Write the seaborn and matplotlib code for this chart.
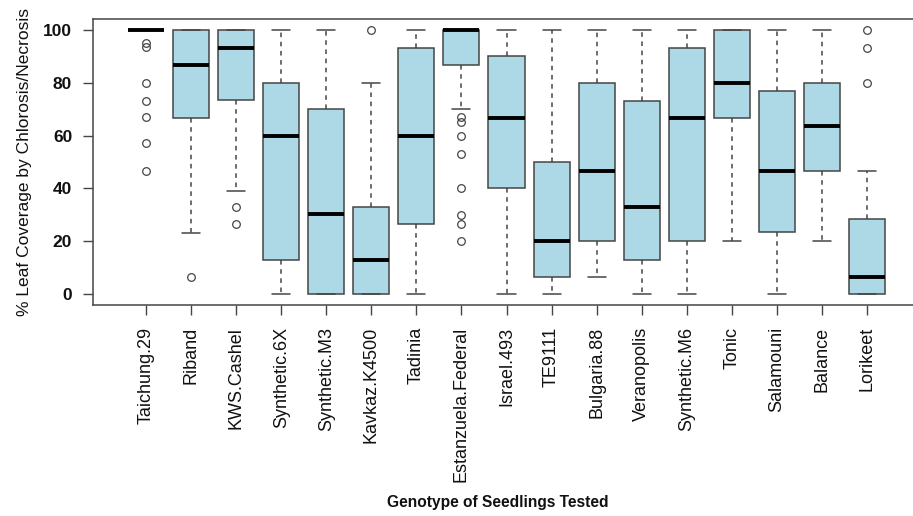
import matplotlib
matplotlib.use("Agg")
import matplotlib.pyplot as plt
import seaborn as sns

genotypes = ["Taichung.29", "Riband", "KWS.Cashel", "Synthetic.6X", "Synthetic.M3",
             "Kavkaz.K4500", "Tadinia", "Estanzuela.Federal", "Israel.493", "TE9111",
             "Bulgaria.88", "Veranopolis", "Synthetic.M6", "Tonic", "Salamouni",
             "Balance", "Lorikeet"]
whisker_low = [100, 23.3, 39, 0, 0, 0, 0, 70, 0, 0, 6.7, 0, 0, 20, 0, 20, 0]
q1 = [100, 66.7, 73.3, 13, 0, 0, 26.7, 86.7, 40, 6.7, 20, 13, 20, 66.7, 23.5, 46.7, 0]
median = [100, 86.7, 93, 60, 30.5, 13, 60, 100, 66.7, 20, 46.7, 33, 66.7, 80, 46.7, 63.5, 6.7]
q3 = [100, 100, 100, 80, 70, 33, 93, 100, 90, 50, 80, 73, 93, 100, 76.7, 80, 28.5]
whisker_high = [100, 100, 100, 100, 100, 80, 100, 100, 100, 100, 100, 100, 100, 100, 100, 100, 46.7]
outliers = [[95, 93.3, 80, 73, 67, 57, 46.7], [6.7], [33, 26.7], [], [], [100], [],
            [67, 65, 60, 53, 40, 30, 26.7, 20], [], [], [], [], [], [], [], [], [100, 93, 80]]

y_ticks = [0, 20, 40, 60, 80, 100]

sns.set_theme(style="white")
plt.rcParams['font.family'] = ['Liberation Sans', 'DejaVu Sans']

fig = plt.figure(figsize=(9.13, 5.16), dpi=100)
W, H = 913, 516
ax = fig.add_axes([93 / W, 1 - 305 / H, (920 - 93) / W, (305 - 19) / H])

stats = []
for i, g in enumerate(genotypes):
    stats.append(dict(label=g, whislo=whisker_low[i], q1=q1[i], med=median[i],
                      q3=q3[i], whishi=whisker_high[i], fliers=outliers[i]))

edge = '#454545'
ax.bxp(stats, positions=list(range(len(genotypes))), widths=0.8, capwidths=0.4,
       patch_artist=True, showfliers=True,
       boxprops=dict(facecolor='#ADD8E6', edgecolor=edge, linewidth=1.1),
       medianprops=dict(color='black', linewidth=2.8, solid_capstyle='butt'),
       whiskerprops=dict(color=edge, linewidth=1.1, linestyle=(0, (3, 3))),
       capprops=dict(color=edge, linewidth=1.1),
       flierprops=dict(marker='o', markersize=5.5, markerfacecolor='none',
                       markeredgecolor=edge, markeredgewidth=0.9, linestyle='none'))

ax.set_xlim(-1.18, len(genotypes) - 1 + 1.18)
ax.set_ylim(-4, 104)
ax.set_yticks(y_ticks)
ax.set_yticklabels([str(t) for t in y_ticks], fontsize=12.5, fontweight='bold', color='#111')
ax.set_xticks(list(range(len(genotypes))))
ax.set_xticklabels(genotypes, rotation=90, fontsize=13, color='#111')
ax.tick_params(axis='both', bottom=True, left=True, length=7, width=1, color=edge,
               direction='out')
ax.tick_params(axis='x', pad=9)
ax.tick_params(axis='y', pad=8)

for s in ax.spines.values():
    s.set_visible(True)
    s.set_color(edge)
    s.set_linewidth(1.1)

ax.set_ylabel('% Leaf Coverage by Chlorosis/Necrosis', fontsize=12.5, color='#111')
ax.yaxis.set_label_coords(-0.074, 0.5)
ax.set_xlabel('Genotype of Seedlings Tested', fontsize=11.2, fontweight='bold', color='#111')
ax.xaxis.set_label_coords(0.49, -0.665)

fig.savefig('out.png', dpi=100)
